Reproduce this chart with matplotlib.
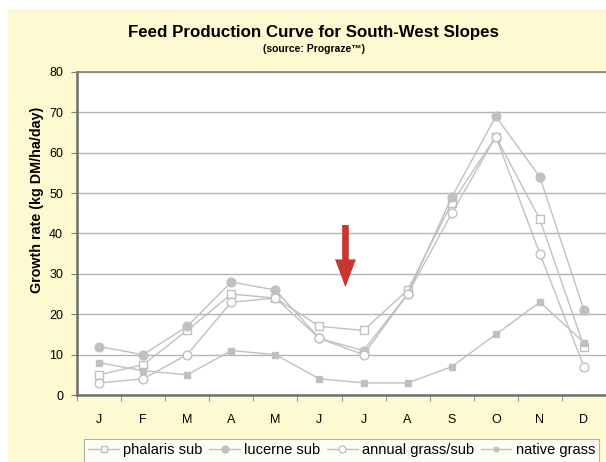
import matplotlib
matplotlib.use("Agg")
import matplotlib.pyplot as plt
from matplotlib.patches import Rectangle

plt.rcParams["font.family"] = ["Liberation Sans", "DejaVu Sans"]

months = ["J", "F", "M", "A", "M", "J", "J", "A", "S", "O", "N", "D"]
phalaris_sub = [5, 7.5, 16, 25, 24, 17, 16, 26, 47.5, 64, 43.5, 12]
lucerne_sub = [12, 10, 17, 28, 26, 14, 11, 25, 49, 69, 54, 21]
annual_grass_sub = [3, 4, 10, 23, 24, 14, 10, 25, 45, 64, 35, 7]
native_grass = [8, 6, 5, 11, 10, 4, 3, 3, 7, 15, 23, 13]

grey = "#c0c0c0"
fig = plt.figure(figsize=(6.06, 4.62), dpi=100)
fig.patch.set_facecolor("white")
# yellow chart area background
fig.patches.append(Rectangle((8 / 606, 0), 1, 1 - 9 / 462, transform=fig.transFigure,
                             facecolor="#fdf9d0", edgecolor="none", zorder=-1))

ax = fig.add_axes([77 / 606, 1 - 395 / 462, 1 - 77 / 606, (395 - 72) / 462])
ax.set_zorder(1)
ax.set_facecolor("white")
x = list(range(len(months)))

ax.plot(x, phalaris_sub, color=grey, lw=1, marker="s", ms=5.5, mfc="white", mec=grey,
        mew=1, label="phalaris sub", zorder=3)
ax.plot(x, lucerne_sub, color=grey, lw=1, marker="o", ms=6.3, mfc=grey, mec=grey,
        label="lucerne sub", zorder=3)
ax.plot(x, annual_grass_sub, color=grey, lw=1, marker="o", ms=6.3, mfc="white", mec=grey,
        mew=1, label="annual grass/sub", zorder=3)
ax.plot(x, native_grass, color=grey, lw=1, marker="s", ms=4.2, mfc=grey, mec=grey,
        label="native grass", zorder=3)

# red arrow
ax.annotate("", xy=(5.59, 26.7), xytext=(5.59, 42.1),
            arrowprops=dict(arrowstyle="simple,head_length=2.0,head_width=1.5,tail_width=0.48",
                            color="#c8372d", lw=0, shrinkA=0, shrinkB=0))

ax.set_xlim(-0.5, 11.5)
ax.set_ylim(0, 80)
ax.set_yticks(range(0, 81, 10))
ax.yaxis.grid(True, color="#b4b4b4", lw=1)
ax.set_axisbelow(True)
ax.set_xticks(x)
ax.set_xticklabels(months)
ax.set_xticks([i - 0.5 for i in range(13)], minor=True)
ax.tick_params(axis="x", which="major", length=0, pad=14, labelsize=9)
ax.tick_params(axis="x", which="minor", length=4, color="#808080", direction="out")
ax.tick_params(axis="y", length=4, color="#808080", labelsize=9, pad=6)

for side in ["left", "bottom"]:
    ax.spines[side].set_color("#6e6e6e")
    ax.spines[side].set_linewidth(1.8)
ax.spines["top"].set_color("#808080")
ax.spines["top"].set_linewidth(1.2)
ax.spines["right"].set_visible(False)

ax.set_ylabel("Growth rate (kg DM/ha/day)", fontsize=10.3, fontweight="bold")
ax.yaxis.set_label_coords(-(77 - 44) / 529, (395 - 200) / 323)

fig.text(0.518, 1 - 33 / 462, "Feed Production Curve for South-West Slopes",
         ha="center", va="center", fontsize=12.2, fontweight="bold")
fig.text(0.518, 1 - 49 / 462, "(source: Prograze\u2122)",
         ha="center", va="center", fontsize=7.5, fontweight="bold")

leg = fig.legend(loc="upper left", bbox_to_anchor=(84 / 606, 1 - 439 / 462), ncol=4,
                 fontsize=10.5, frameon=True, fancybox=False, edgecolor="#a0a0a0",
                 handlelength=2.1, handletextpad=0.3, columnspacing=0.45,
                 markerscale=0.8, borderpad=0.3, borderaxespad=0)
leg.get_frame().set_linewidth(0.8)

fig.savefig("out.png", dpi=100)
